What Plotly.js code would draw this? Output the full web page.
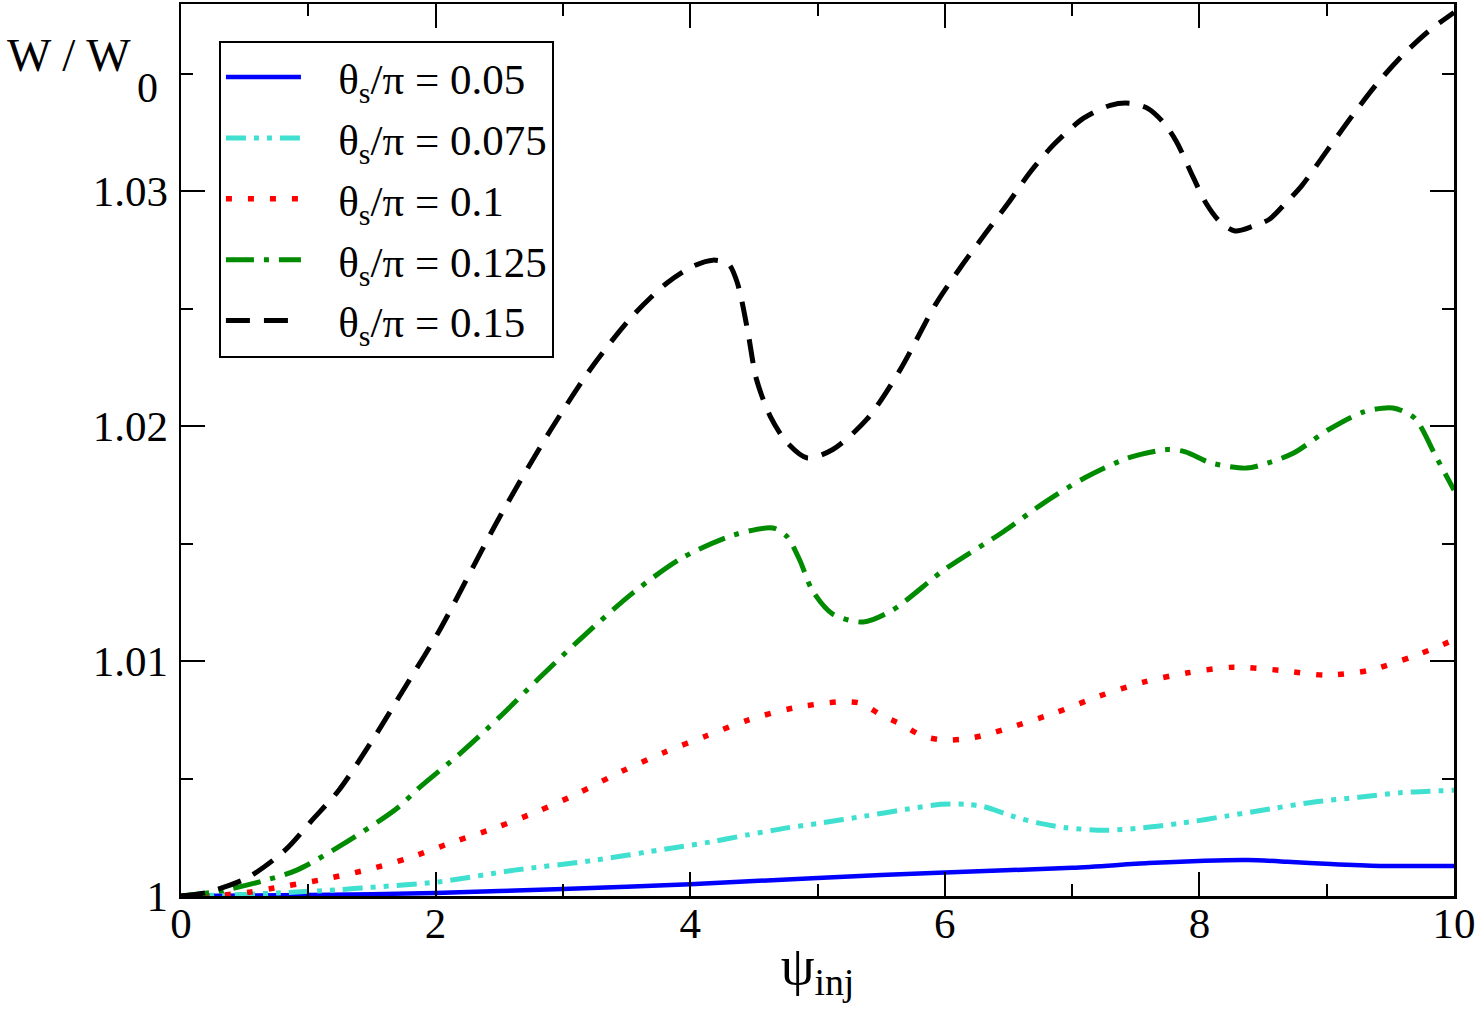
<!DOCTYPE html>
<html>
<head>
<meta charset="utf-8">
<script src="https://cdn.plot.ly/plotly-3.0.1.min.js"></script>
<style>html,body{margin:0;padding:0;background:#fff;}#chart{width:1482px;height:1009px;}</style>
</head>
<body>
<div id="chart"></div>
<script>
// ---- data ----
const seriesNames = ['θ<sub>s</sub>/π = 0.05', 'θ<sub>s</sub>/π = 0.075', 'θ<sub>s</sub>/π = 0.1', 'θ<sub>s</sub>/π = 0.125', 'θ<sub>s</sub>/π = 0.15'];

const x005 = [0, 1, 2, 3, 4, 5, 6, 7, 7.6, 8.04, 8.38, 8.69, 9.03, 9.42, 10];
const y005 = [1, 1.00004, 1.00013, 1.0003, 1.0005, 1.00077, 1.001, 1.0012, 1.0014, 1.0015, 1.00153, 1.00146, 1.00136, 1.00128, 1.00128];

const x0075 = [0, 0.4, 0.76, 1.21, 1.42, 2.02, 2.62, 3.22, 3.81, 4.16, 4.45, 4.76, 5.02, 5.37, 5.71, 5.97, 6.16, 6.31, 6.53, 6.74, 6.96, 7.26, 7.56, 7.86, 8.21, 8.55, 8.9, 9.25, 9.59, 10];
const y0075 = [1, 1.00005, 1.00013, 1.00026, 1.00034, 1.0006, 1.0011, 1.0015, 1.002, 1.0023, 1.0026, 1.0029, 1.0031, 1.0034, 1.0037, 1.0039, 1.0039, 1.0038, 1.0034, 1.0031, 1.0029, 1.0028, 1.0029, 1.0031, 1.0034, 1.0037, 1.004, 1.0042, 1.0044, 1.0045];

const x01 = [0, 0.3, 0.55, 0.73, 1.09, 1.45, 1.78, 2.14, 2.47, 2.8, 3.13, 3.46, 3.79, 4.12, 4.46, 4.81, 5.17, 5.34, 5.5, 5.66, 5.83, 6.0, 6.18, 6.35, 6.53, 6.87, 7.21, 7.56, 7.91, 8.27, 8.64, 8.99, 9.33, 9.68, 10];
const y01 = [1, 1.00003, 1.00017, 1.00034, 1.00068, 1.0011, 1.0016, 1.0023, 1.0029, 1.0036, 1.0044, 1.0053, 1.0061, 1.0068, 1.0075, 1.008, 1.00826, 1.0082, 1.0077, 1.0073, 1.0068, 1.00664, 1.0067, 1.0069, 1.0072, 1.0078, 1.0085, 1.0091, 1.0095, 1.00974, 1.0096, 1.0094, 1.0096, 1.0102, 1.0109];

const x0125 = [0, 0.3, 0.67, 0.91, 1.24, 1.69, 1.87, 2.2, 2.5, 2.8, 3.13, 3.55, 3.94, 4.34, 4.65, 4.76, 4.86, 4.96, 5.12, 5.36, 5.59, 6.0, 6.46, 6.77, 7.1, 7.44, 7.75, 7.89, 8.09, 8.37, 8.54, 8.74, 9.01, 9.29, 9.52, 9.69, 9.86, 10];
const y0125 = [1, 1.0002, 1.00068, 1.0011, 1.0021, 1.0037, 1.0046, 1.0061, 1.0076, 1.0092, 1.0109, 1.0129, 1.0144, 1.01536, 1.01566, 1.0153, 1.0143, 1.013, 1.012, 1.01166, 1.01217, 1.0139, 1.0155, 1.0167, 1.0178, 1.01864, 1.019, 1.0189, 1.01843, 1.01821, 1.01843, 1.01885, 1.01983, 1.0206, 1.02077, 1.02034, 1.01868, 1.01728];

const x015 = [0, 0.2, 0.52, 0.82, 1.03, 1.24, 1.5, 1.75, 2.03, 2.5, 2.9, 3.24, 3.55, 3.82, 4.02, 4.18, 4.3, 4.37, 4.45, 4.52, 4.63, 4.76, 4.92, 5.12, 5.39, 5.65, 5.93, 6.13, 6.32, 6.5, 6.67, 6.86, 7.09, 7.3, 7.45, 7.6, 7.72, 7.82, 7.95, 8.05, 8.16, 8.28, 8.42, 8.55, 8.68, 8.8, 9.0, 9.2, 9.4, 9.6, 9.8, 10];
const y015 = [1, 1.00015, 1.00077, 1.00196, 1.00323, 1.0045, 1.0066, 1.0088, 1.0113, 1.0161, 1.0198, 1.0226, 1.0247, 1.0261, 1.0268, 1.02706, 1.0269, 1.0261, 1.0241, 1.022, 1.0204, 1.0193, 1.01864, 1.019, 1.0203, 1.0224, 1.0252, 1.0268, 1.0282, 1.0295, 1.0308, 1.032, 1.0331, 1.03365, 1.03374, 1.0335, 1.0329, 1.0321, 1.0306, 1.0295, 1.0287, 1.0283, 1.0285, 1.0288, 1.0295, 1.0302, 1.0317, 1.0332, 1.0346, 1.0358, 1.0368, 1.0376];

const xTickVals = [0, 2, 4, 6, 8, 10];
const yTickVals = [1, 1.01, 1.02, 1.03];
const yTickText = ['1', '1.01', '1.02', '1.03'];

// ---- styles ----
const FONT = '"Liberation Serif", "Times New Roman", serif';
const PAD = '\u00a0\u00a0\u00a0';
const styles = [
  {color: '#0000ff', dash: 'solid', width: 4.5},
  {color: '#40e0d0', dash: '20px,8px,5px,8px,5px,8px', width: 5},
  {color: '#ff0000', dash: '6px,16px', width: 5.5},
  {color: '#008b00', dash: '28px,10px,5px,10px', width: 5},
  {color: '#000000', dash: '24px,14px', width: 5}
];
const xs = [x005, x0075, x01, x0125, x015];
const ys = [y005, y0075, y01, y0125, y015];

const traces = xs.map((x, i) => ({
  type: 'scatter', mode: 'lines', x: x, y: ys[i], name: PAD + seriesNames[i],
  legendgroup: 'g' + i,
  line: {color: styles[i].color, dash: styles[i].dash, width: styles[i].width, shape: 'spline', smoothing: 0.8},
  cliponaxis: true
}));

const axisCommon = {
  showgrid: false, zeroline: false, showline: true, linecolor: '#000', linewidth: 2.5,
  mirror: 'ticks', ticks: 'inside', ticklen: 24, tickwidth: 2, tickcolor: '#000',
  tickfont: {family: FONT, size: 43, color: '#000'}
};

const layout = {
  width: 1482, height: 1009,
  margin: {l: 181, r: 28, t: 4, b: 113},
  paper_bgcolor: '#fff', plot_bgcolor: '#fff',
  showlegend: true,
  xaxis: Object.assign({}, axisCommon, {
    range: [0, 10], tickmode: 'array', tickvals: xTickVals,
    minor: {dtick: 1, tick0: 0, ticklen: 12, tickwidth: 2, tickcolor: '#000', ticks: 'inside'},
    ticklabelstandoff: -12,
    title: {text: 'ψ<sub>inj</sub>', font: {family: FONT, size: 54, color: '#000'}, standoff: 0}
  }),
  yaxis: Object.assign({}, axisCommon, {
    range: [1, 1.03796], tickmode: 'array', tickvals: yTickVals, ticktext: yTickText,
    minor: {dtick: 0.005, tick0: 1, ticklen: 12, tickwidth: 2, tickcolor: '#000', ticks: 'inside'},
    ticklabelstandoff: 2
  }),
  legend: {
    x: 0.0298, y: 0.959, xanchor: 'left', yanchor: 'top',
    bordercolor: '#000', borderwidth: 2, bgcolor: '#fff',
    font: {family: FONT, size: 43, color: '#000'},
    itemwidth: 75, tracegroupgap: 2
  },
  annotations: [
    {
      xref: 'paper', yref: 'paper', x: -0.138, y: 0.943, xanchor: 'left', yanchor: 'middle',
      showarrow: false, text: 'W / W',
      font: {family: FONT, size: 47, color: '#000'}
    },
    {
      xref: 'paper', yref: 'paper', x: -0.0365, y: 0.906, xanchor: 'left', yanchor: 'middle',
      showarrow: false, text: '0',
      font: {family: FONT, size: 42, color: '#000'}
    }
  ]
};

Plotly.newPlot('chart', traces, layout, {staticPlot: true, displayModeBar: false});
</script>
</body>
</html>
